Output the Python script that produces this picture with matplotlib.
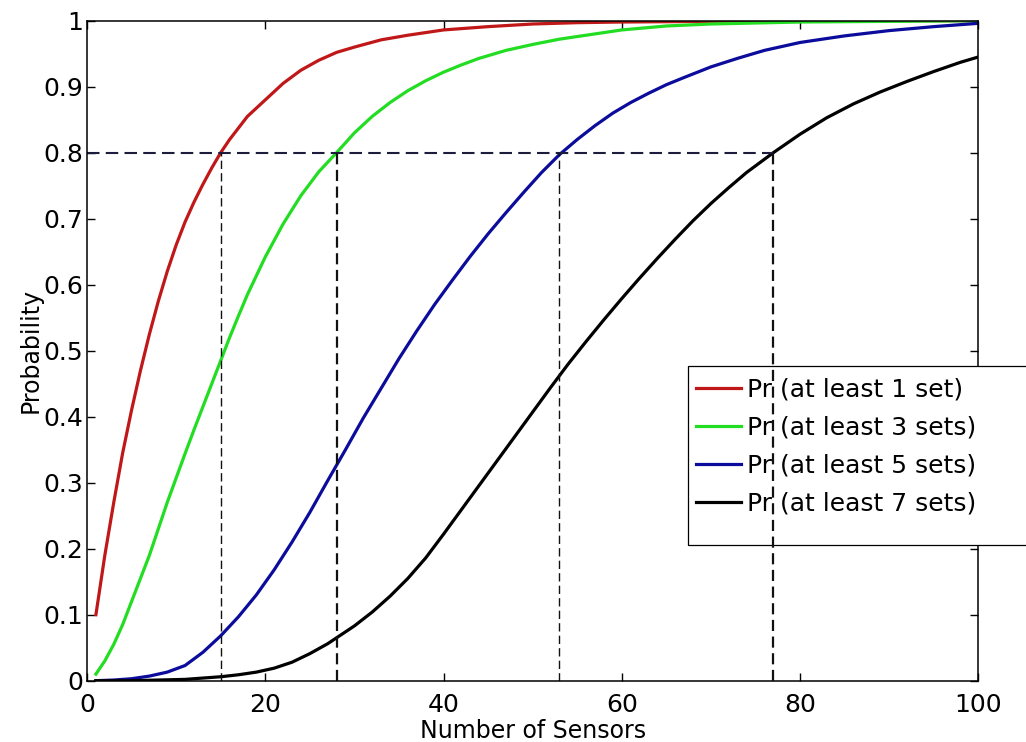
import matplotlib
matplotlib.use("Agg")
import matplotlib.pyplot as plt
from matplotlib.patches import Rectangle

plt.rcParams['font.family'] = ['DejaVu Sans']

# values
n_red = [1, 2, 3, 4, 5, 6, 7, 8, 9, 10, 11, 12, 13, 14, 15, 16, 18, 20, 22, 24, 26, 28, 30,
         33, 36, 40, 45, 50, 55, 60, 70, 80, 100]
p_red = [0.10, 0.19, 0.27, 0.345, 0.41, 0.47, 0.525, 0.575, 0.62, 0.66, 0.695, 0.725, 0.752,
         0.777, 0.80, 0.82, 0.855, 0.88, 0.905, 0.925, 0.94, 0.952, 0.96, 0.971, 0.978,
         0.986, 0.991, 0.995, 0.997, 0.998, 0.999, 1.0, 1.0]

n_green = [1, 2, 3, 4, 5, 6, 7, 8, 9, 10, 11, 12, 13, 14, 15, 16, 17, 18, 20, 22, 24, 26,
           28, 30, 32, 34, 36, 38, 40, 42, 44, 47, 50, 53, 56, 60, 65, 70, 80, 90, 100]
p_green = [0.01, 0.03, 0.055, 0.085, 0.12, 0.155, 0.19, 0.23, 0.27, 0.307, 0.344, 0.38,
           0.415, 0.45, 0.485, 0.52, 0.553, 0.585, 0.642, 0.692, 0.735, 0.771, 0.80, 0.83,
           0.855, 0.876, 0.894, 0.909, 0.922, 0.933, 0.943, 0.955, 0.964, 0.972, 0.978,
           0.986, 0.992, 0.995, 0.998, 0.999, 1.0]

n_blue = [1, 3, 5, 7, 9, 11, 13, 15, 17, 19, 21, 23, 25, 27, 29, 31, 33, 35, 37, 39, 41, 43,
          45, 47, 49, 51, 53, 55, 57, 59, 61, 63, 65, 67, 70, 73, 76, 80, 85, 90, 95, 100]
p_blue = [0.0, 0.001, 0.003, 0.007, 0.013, 0.023, 0.043, 0.068, 0.097, 0.13, 0.168, 0.21,
          0.255, 0.303, 0.35, 0.398, 0.443, 0.488, 0.53, 0.57, 0.607, 0.643, 0.677, 0.709,
          0.74, 0.77, 0.797, 0.82, 0.841, 0.86, 0.876, 0.89, 0.903, 0.914, 0.93, 0.943,
          0.955, 0.967, 0.977, 0.985, 0.991, 0.996]

n_black = [1, 5, 8, 11, 13, 15, 17, 19, 21, 23, 25, 27, 28, 30, 32, 34, 36, 38, 40, 42, 44,
           46, 48, 50, 52, 54, 56, 58, 60, 62, 64, 66, 68, 70, 72, 74, 77, 80, 83, 86, 89,
           92, 95, 98, 100]
p_black = [0.0, 0.0, 0.001, 0.002, 0.004, 0.006, 0.009, 0.013, 0.019, 0.028, 0.041, 0.056,
           0.065, 0.083, 0.104, 0.128, 0.155, 0.186, 0.222, 0.259, 0.296, 0.333, 0.37,
           0.407, 0.444, 0.48, 0.514, 0.547, 0.579, 0.61, 0.64, 0.669, 0.697, 0.723, 0.747,
           0.77, 0.80, 0.828, 0.853, 0.874, 0.892, 0.908, 0.923, 0.937, 0.945]

labels = ["Pr (at least 1 set)", "Pr (at least 3 sets)",
          "Pr (at least 5 sets)", "Pr (at least 7 sets)"]
colors = ["#c01818", "#22dd22", "#0c0c9c", "#000000"]

target_p = 0.8
cut_n = [15, 28, 53, 77]

yticks = [0, 0.1, 0.2, 0.3, 0.4, 0.5, 0.6, 0.7, 0.8, 0.9, 1]
ytick_labels = ["0", "0.1", "0.2", "0.3", "0.4", "0.5", "0.6", "0.7", "0.8", "0.9", "1"]
xticks = [0, 20, 40, 60, 80, 100]

W, H = 1026, 742
fig = plt.figure(figsize=(W / 100, H / 100), dpi=100)
ax = fig.add_axes([87 / W, 1 - 680.7 / H, (978.3 - 87) / W, (680.7 - 20.7) / H])

series = [(n_red, p_red), (n_green, p_green), (n_blue, p_blue), (n_black, p_black)]
for (xs, ys), c, lab in zip(series, colors, labels):
    ax.plot(xs, ys, color=c, lw=2.3, label=lab, zorder=2)

# 0.8 level and where each curve reaches it
ax.plot([0, cut_n[-1]], [target_p, target_p], color="#1c1c3c", lw=1.5,
        dashes=(6, 3), zorder=2.1)
thick = [1.0, 1.6, 1.0, 1.6]
for i, xv in enumerate(cut_n):
    z = 2.8 if i == len(cut_n) - 1 else 2.1
    ax.plot([xv, xv], [0, target_p], color="#111111", lw=thick[i],
            dashes=(6, 3) if thick[i] < 1.2 else (5, 2.5), zorder=z)

ax.set_xlim(0, 100)
ax.set_ylim(0, 1)
ax.set_xticks(xticks)
ax.set_xticklabels([str(v) for v in xticks])
ax.set_yticks(yticks)
ax.set_yticklabels(ytick_labels)
ax.tick_params(direction="in", length=6, width=1, top=True, right=True,
               labelsize=18)
ax.tick_params(axis="x", pad=9)
ax.tick_params(axis="y", pad=3)
for s in ax.spines.values():
    s.set_linewidth(1.1)

ax.set_xlabel("Number of Sensors", fontsize=17, labelpad=1)
ax.set_ylabel("Probability", fontsize=17, labelpad=0)

# legend box runs off the right edge like in the reference
box = Rectangle((688.3 / W, 1 - 545 / H), 0.4, (545 - 366) / H, transform=fig.transFigure,
                facecolor="white", edgecolor="black", lw=0.9, clip_on=False, zorder=2.6)
ax.add_artist(box)
leg = ax.legend(loc="upper left", bbox_to_anchor=(696 / W, 1 - 378 / H),
                bbox_transform=fig.transFigure, frameon=False, fontsize=18,
                borderpad=0, borderaxespad=0, handlelength=1.8, handletextpad=0.25,
                labelspacing=0.55)
leg.set_zorder(2.7)

fig.savefig("out.png", dpi=100)
